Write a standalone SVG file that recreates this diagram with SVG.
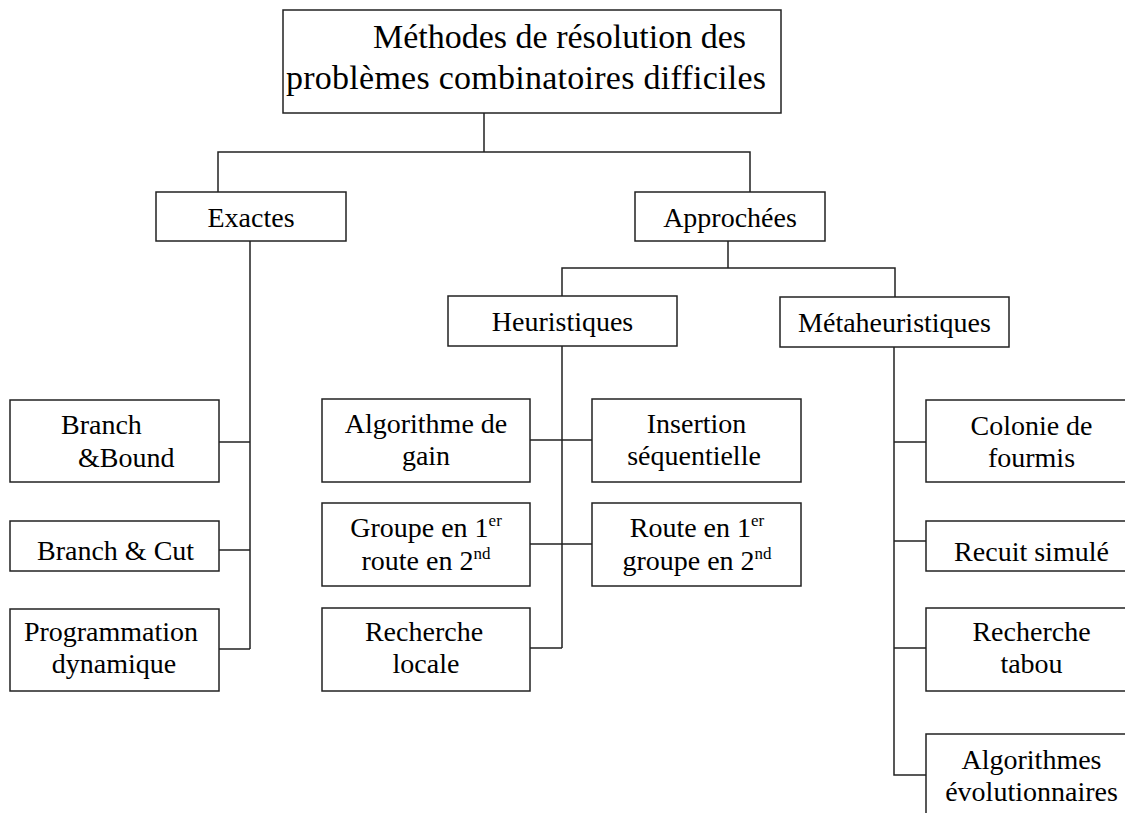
<svg xmlns="http://www.w3.org/2000/svg" width="1125" height="813" viewBox="0 0 1125 813">
<style>
.box{fill:#fff;stroke:#222;stroke-width:1.5}
.c{fill:none;stroke:#222;stroke-width:1.5}
text{font-family:"Liberation Serif","Times New Roman",serif;font-size:28px;fill:#000}
.m{text-anchor:middle}
.big{font-size:34px}
.sup{font-size:17px}
</style>
<rect x="0" y="0" width="1125" height="813" fill="#fff"/>
<g id="connectors">
<path class="c" d="M484 113V152M218 192V152H750V192"/>
<path class="c" d="M250 241V649M219 442H250M219 550H250M219 649H250"/>
<path class="c" d="M728 241V268M562 296V268H895V297"/>
<path class="c" d="M562 346V648M530 440H592M530 544H592M530 648H562"/>
<path class="c" d="M894 347V775H926M894 442H926M894 541H926M894 648H926"/>
</g>
<g id="root"><rect class="box" x="283" y="10" width="498" height="103"/>
<text class="big" x="373" y="48">Méthodes de résolution des</text>
<text class="big" x="286" y="89" textLength="480" lengthAdjust="spacing">problèmes combinatoires difficiles</text></g>
<g id="exactes"><rect class="box" x="156" y="192" width="190" height="49"/><text class="m" x="251" y="227">Exactes</text></g>
<g id="approchees"><rect class="box" x="635" y="192" width="190" height="49"/><text class="m" x="730" y="227">Approchées</text></g>
<g id="heuristiques"><rect class="box" x="448" y="296" width="229" height="50"/><text class="m" x="562.5" y="331">Heuristiques</text></g>
<g id="metaheuristiques"><rect class="box" x="780" y="297" width="229" height="50"/><text class="m" x="894.5" y="332">Métaheuristiques</text></g>
<g id="bb"><rect class="box" x="10" y="400" width="209" height="82"/><text x="61" y="434">Branch</text><text x="78" y="467">&amp;Bound</text></g>
<g id="bc"><rect class="box" x="10" y="521" width="209" height="50"/><text x="37" y="560">Branch &amp; Cut</text></g>
<g id="pd"><rect class="box" x="10" y="609" width="209" height="82"/><text class="m" x="111" y="641">Programmation</text><text class="m" x="114" y="673">dynamique</text></g>
<g id="gain"><rect class="box" x="322" y="399" width="208" height="83"/><text class="m" x="426" y="433">Algorithme de</text><text class="m" x="426" y="465">gain</text></g>
<g id="insertion"><rect class="box" x="592" y="399" width="209" height="83"/><text class="m" x="696.5" y="433">Insertion</text><text class="m" x="694" y="465">séquentielle</text></g>
<g id="groupe"><rect class="box" x="322" y="503" width="208" height="83"/><text class="m" x="426" y="537">Groupe en 1<tspan class="sup" dy="-11">er</tspan></text><text class="m" x="426" y="570">route en 2<tspan class="sup" dy="-11">nd</tspan></text></g>
<g id="route"><rect class="box" x="592" y="503" width="209" height="83"/><text class="m" x="697" y="537">Route en 1<tspan class="sup" dy="-11">er</tspan></text><text class="m" x="697" y="570">groupe en 2<tspan class="sup" dy="-11">nd</tspan></text></g>
<g id="locale"><rect class="box" x="322" y="608" width="208" height="83"/><text class="m" x="424" y="641">Recherche</text><text class="m" x="426" y="673">locale</text></g>
<g id="colonie"><rect class="box" x="926" y="400" width="209" height="82"/><text class="m" x="1031.5" y="435">Colonie de</text><text class="m" x="1031.5" y="467">fourmis</text></g>
<g id="recuit"><rect class="box" x="926" y="521" width="209" height="50"/><text class="m" x="1031.5" y="561">Recuit simulé</text></g>
<g id="tabou"><rect class="box" x="926" y="608" width="209" height="83"/><text class="m" x="1031.5" y="641">Recherche</text><text class="m" x="1031.5" y="673">tabou</text></g>
<g id="evol"><rect class="box" x="926" y="734" width="209" height="83"/><text class="m" x="1031.5" y="769">Algorithmes</text><text class="m" x="1031.5" y="801">évolutionnaires</text></g>
</svg>
